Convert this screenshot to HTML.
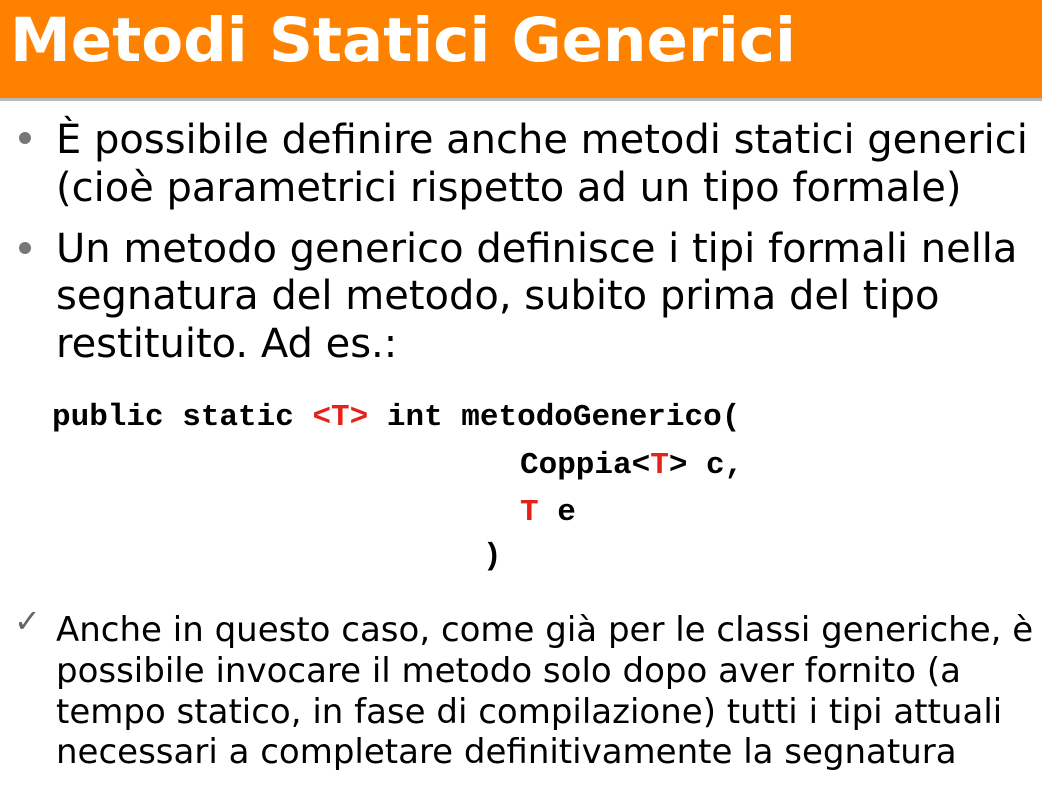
<!DOCTYPE html>
<html><head><meta charset="utf-8"><style>
html,body{margin:0;padding:0;background:#fff;}
body{width:1042px;height:785px;position:relative;overflow:hidden;}
.bar{position:absolute;left:0;top:0;width:1042px;height:98px;background:#ff8100;}
.line{position:absolute;left:0;top:98px;width:1042px;height:3px;background:#b8b8b8;}
.t{position:absolute;white-space:nowrap;font-family:"DejaVu Sans","Liberation Sans",sans-serif;color:#000;}
.title{left:10px;top:4px;font-size:61px;font-weight:bold;color:#fff;line-height:74px;}
.b{font-size:40px;line-height:44px;left:56px;}
.s{font-size:34px;line-height:40px;left:56px;}
.c{position:absolute;white-space:pre;font-family:"Liberation Mono",monospace;font-weight:bold;font-size:31px;line-height:36px;color:#000;}
.r{color:#e8201a;}
.dot{position:absolute;width:12px;height:12px;border-radius:50%;background:#777;}
</style></head><body>
<div class="bar"></div><div class="line"></div>
<div class="t title">Metodi Statici Generici</div>
<div class="dot" style="left:19px;top:132px"></div>
<div class="dot" style="left:19px;top:242px"></div>
<div class="t b" style="top:118px">È possibile definire anche metodi statici generici</div>
<div class="t b" style="top:166px">(cioè parametrici rispetto ad un tipo formale)</div>
<div class="t b" style="top:227px">Un metodo generico definisce i tipi formali nella</div>
<div class="t b" style="top:274px">segnatura del metodo, subito prima del tipo</div>
<div class="t b" style="top:322px">restituito. Ad es.:</div>
<div class="c" style="left:52px;top:400px">public static <span class="r">&lt;T&gt;</span> int metodoGenerico(</div>
<div class="c" style="left:520px;top:448px">Coppia&lt;<span class="r">T</span>&gt; c,</div>
<div class="c" style="left:520px;top:495px"><span class="r">T</span> e</div>
<div class="c" style="left:483px;top:539px">)</div>
<div class="t" style="left:14px;top:604px;font-size:32px;color:#666;line-height:34px">✓</div>
<div class="t s" style="top:610px">Anche in questo caso, come già per le classi generiche, è</div>
<div class="t s" style="top:651px">possibile invocare il metodo solo dopo aver fornito (a</div>
<div class="t s" style="top:692px">tempo statico, in fase di compilazione) tutti i tipi attuali</div>
<div class="t s" style="top:732px">necessari a completare definitivamente la segnatura</div>
</body></html>
